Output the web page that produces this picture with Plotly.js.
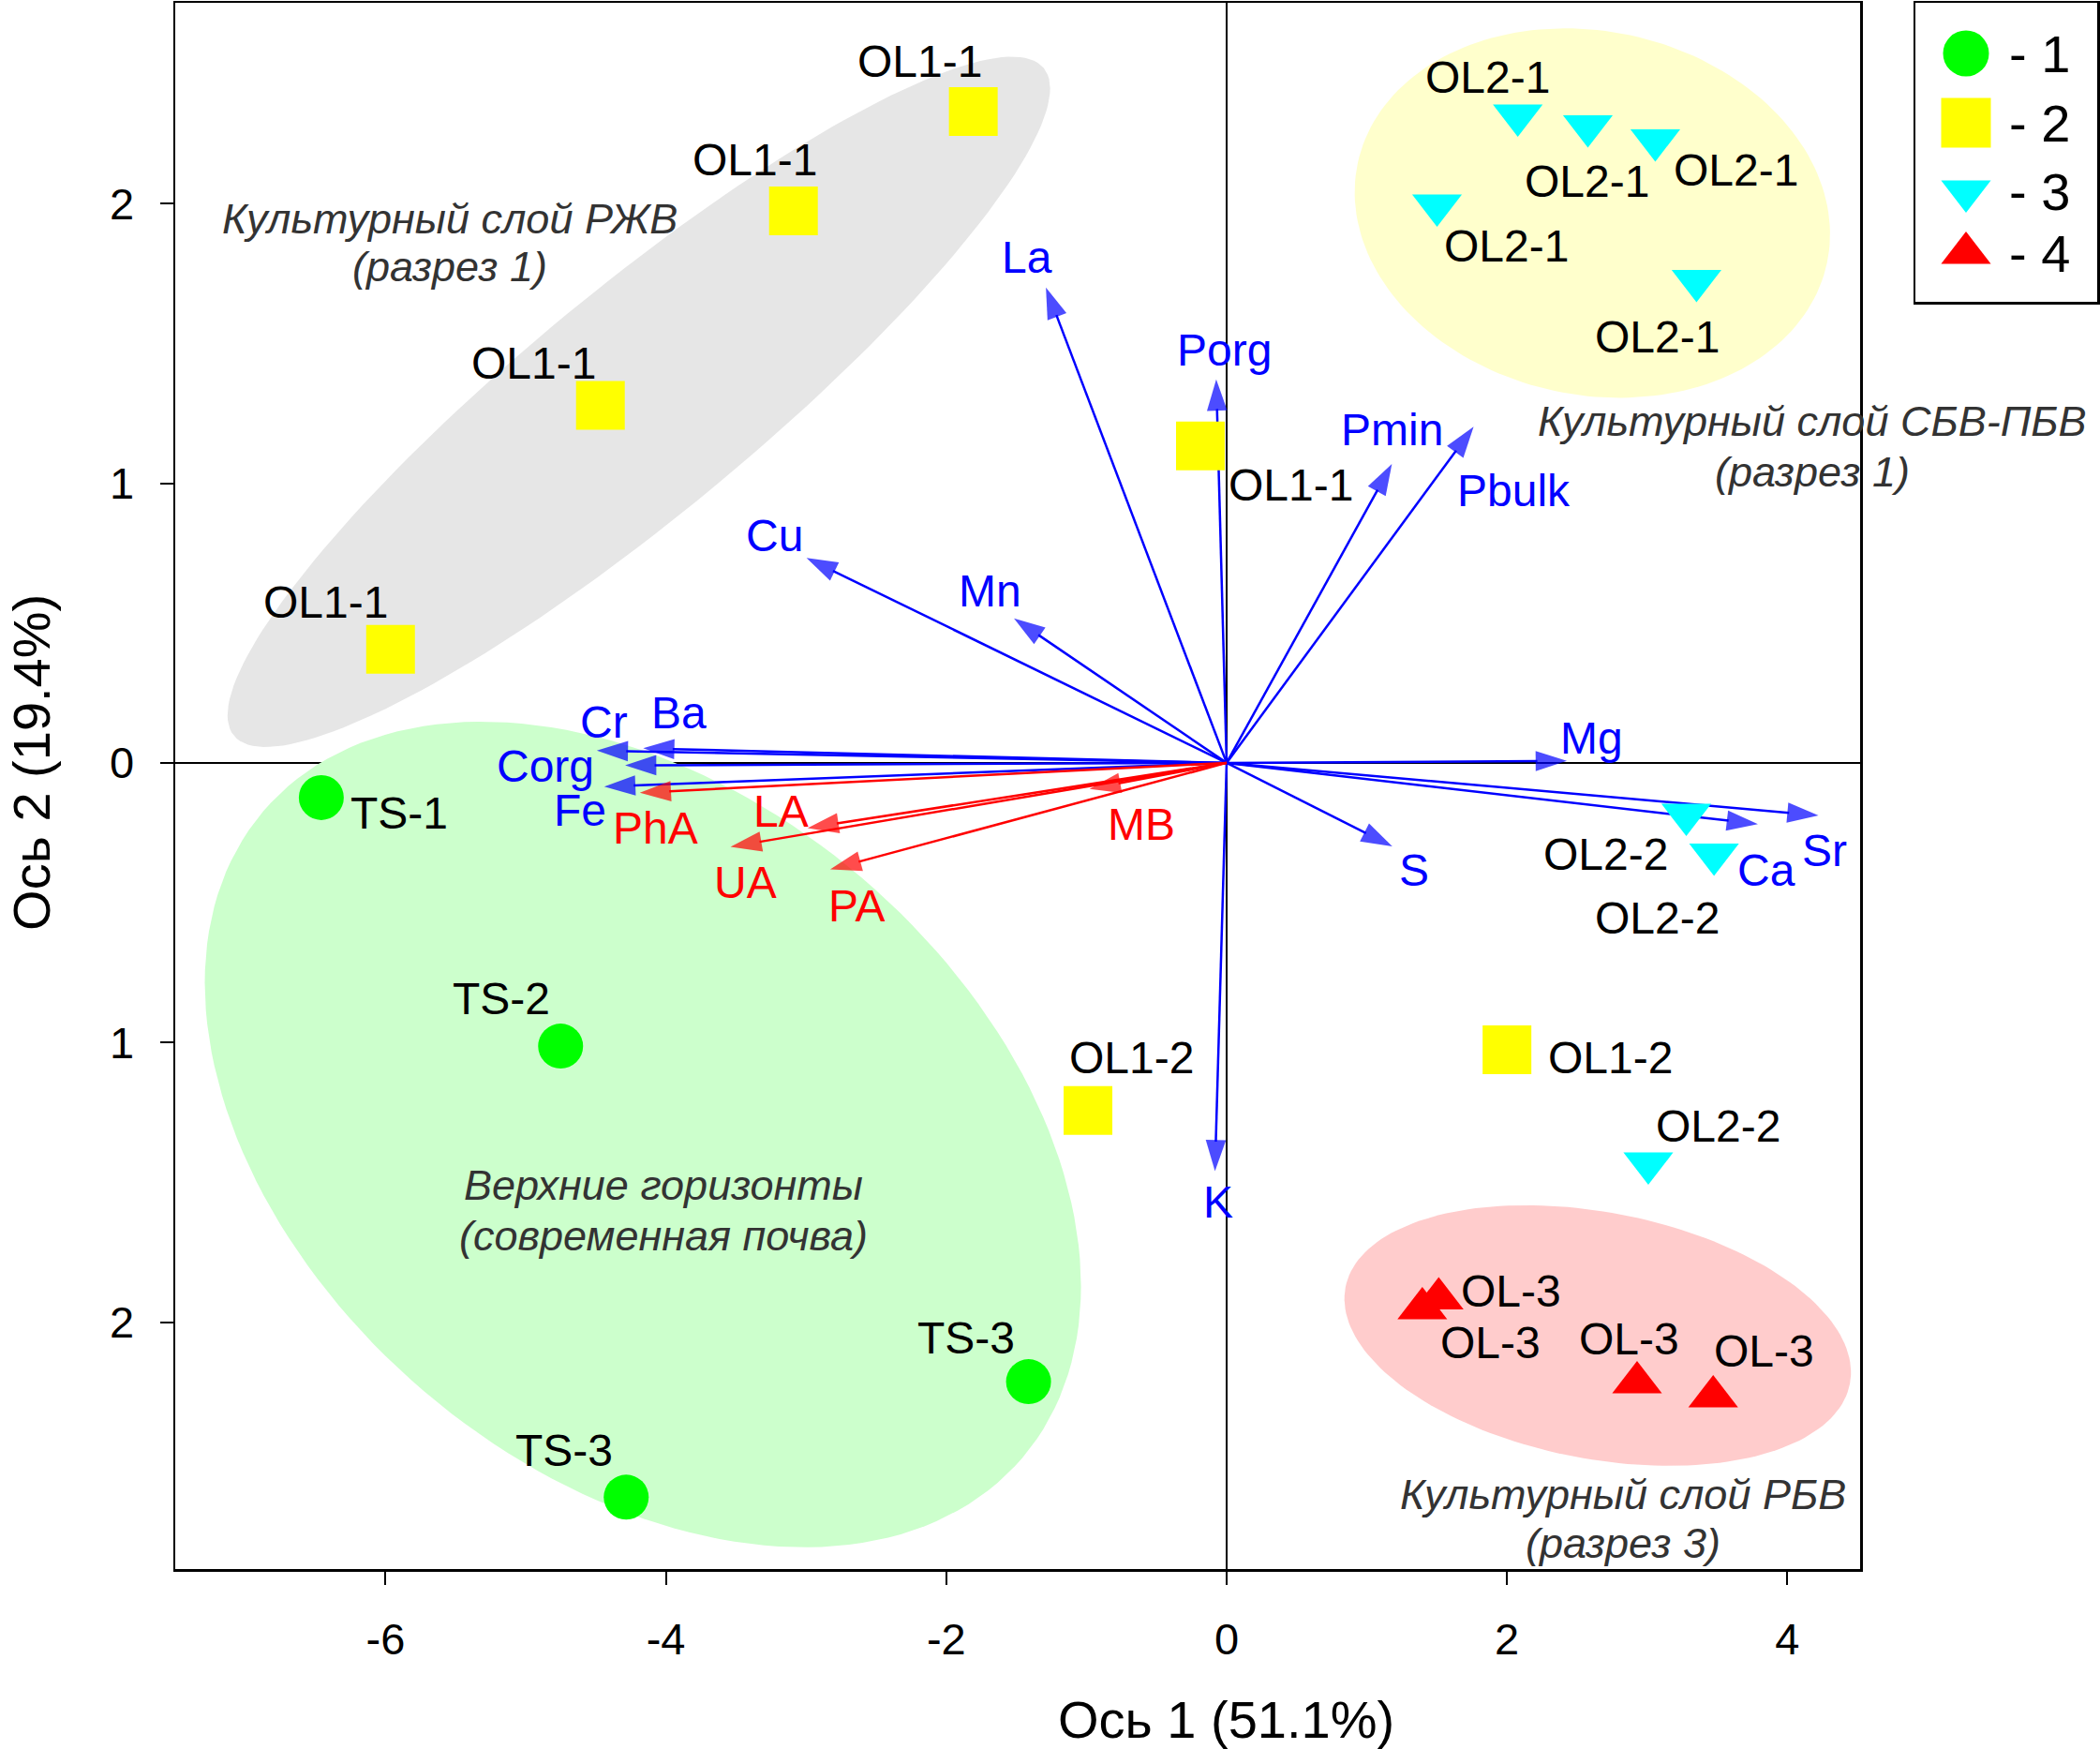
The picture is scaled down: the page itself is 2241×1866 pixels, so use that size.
<!DOCTYPE html>
<html><head><meta charset="utf-8">
<script src="https://cdn.plot.ly/plotly-3.0.1.min.js"></script>
<style>html,body{margin:0;padding:0;background:#fff}#chart{width:2241px;height:1866px}</style>
</head><body><div id="chart"></div>
<script>
// ---------------- data ----------------
const g1Labels = ['TS-1','TS-2','TS-3','TS-3'];
const g1X = [-6.458,-4.751,-1.413,-4.283];
const g1Y = [-0.124,-1.013,-2.213,-2.626];

const g2Labels = ['OL1-1','OL1-1','OL1-1','OL1-1','OL1-1','OL1-2','OL1-2'];
const g2X = [-1.807,-3.090,-4.467,-5.964,-0.187,-0.989,2.000];
const g2Y = [2.329,1.974,1.278,0.406,1.133,-1.243,-1.026];

const g3Labels = ['OL2-1','OL2-1','OL2-1','OL2-1','OL2-1','OL2-2','OL2-2','OL2-2'];
const g3X = [2.077,2.577,3.058,1.501,3.352,3.279,3.477,3.008];
const g3Y = [2.316,2.277,2.227,1.994,1.724,-0.185,-0.327,-1.432];

const g4Labels = ['OL-3','OL-3','OL-3','OL-3'];
const g4X = [1.396,1.513,2.928,3.471];
const g4Y = [-1.951,-1.916,-2.216,-2.266];

const blueVars = ['La','Porg','Pmin','Pbulk','Cu','Mn','Cr','Ba','Corg','Fe','Mg','S','Ca','Sr','K'];
const blueX = [-1.289,-0.074,1.179,1.762,-2.997,-1.517,-4.493,-4.162,-4.291,-4.440,2.427,1.182,3.790,4.222,-0.083];
const blueY = [1.700,1.371,1.069,1.202,0.733,0.517,0.044,0.052,-0.009,-0.085,0.007,-0.299,-0.219,-0.188,-1.460];

const redVars = ['PhA','LA','UA','PA','MB'];
const redX = [-4.186,-2.989,-3.539,-2.828,-0.978];
const redY = [-0.107,-0.233,-0.300,-0.381,-0.093];

const xTickVals = [-6,-4,-2,0,2,4];
const xTickText = ['-6','-4','-2','0','2','4'];
const yTickVals = [2,1,0,-1,-2];
const yTickText = ['2','1','0','1','2'];
const legendText = ['- 1','- 2','- 3','- 4'];
const xTitle = 'Ось 1 (51.1%)';
const yTitle = 'Ось 2 (19.4%)';

// ---------------- styling / layout constants ----------------
const FONT = 'Liberation Sans, Arial, Helvetica, sans-serif';
const W = 2241, H = 1866;
const margin = {l:187, r:0, t:3, b:192, pad:0};
const plotRightPx = 1985;
const paperW = W - margin.l - margin.r, paperH = H - margin.t - margin.b;
const xDomEnd = (plotRightPx - margin.l) / paperW;
const xRange = [-7.5, 4.519], yRange = [-2.883, 2.718];
const pxPerX = (plotRightPx - margin.l) / (xRange[1] - xRange[0]);
const pxPerY = paperH / (yRange[1] - yRange[0]);

// label offsets in screen pixels [dx, dy(down)]
const g1Off = [[83,17],[-63,-51],[-66.6,-46.5],[-66.4,-49.5]];
const g2Off = [[-57,-53.5],[-41,-54.5],[-71,-45],[-69,-50],[96.5,42],[46.6,-56.7],[110,9]];
const g3Off = [[-31.7,-40.9],[-0.8,58.5],[86.3,31.8],[73.7,43.75],[-41.7,60.4],[-86.5,42.75],[-60.9,68.5],[74.9,-39.6]];
const g4Off = [[72.4,37],[77.5,-8],[-8.2,-46.5],[54.6,-48.8]];
const blueOff = [[-20,-32],[9,-31],[0,-36.5],[43,68.4],[-34,-24],[-25.6,-29],[7.6,-30.4],[38.3,-37.5],[-85,1.2],[-26,25],[26,-24],[22.7,25.5],[9.5,49],[6.8,37.2],[3,33]];
const redOff = [[16.8,37.6],[-28,-18.3],[16.3,38.4],[28.4,39],[55.8,38.3]];

const groups = [
  {x:g1X, y:g1Y, labels:g1Labels, off:g1Off, symbol:'circle', size:48, color:'#00FF00'},
  {x:g2X, y:g2Y, labels:g2Labels, off:g2Off, symbol:'square', size:52, color:'#FFFF00'},
  {x:g3X, y:g3Y, labels:g3Labels, off:g3Off, symbol:'triangle-down', size:46, color:'#00FFFF'},
  {x:g4X, y:g4Y, labels:g4Labels, off:g4Off, symbol:'triangle-up', size:46, color:'#FF0000'}
];

// group ellipses: centre in data units, semi-axes in px, tilt in degrees (ccw)
const ellipses = [
  {cx:-4.193, cy:1.291, a:560, b:121, ang:39.5, color:'#E6E6E6'},
  {cx:-4.164, cy:-1.329, a:532, b:360, ang:-40.4, color:'#CCFFCC'},
  {cx:2.609, cy:1.966, a:256, b:194, ang:-12, color:'#FFFFCC'},
  {cx:2.647, cy:-2.048, a:274, b:131.5, ang:-10.8, color:'#FFCCCC'}
];
const groupNotes = [
  {x:-5.541, y:[1.947,1.773], lines:['Культурный слой РЖВ','(разрез 1)']},
  {x:4.178, y:[1.220,1.042], lines:['Культурный слой СБВ-ПБВ','(разрез 1)']},
  {x:-4.017, y:[-1.512,-1.690], lines:['Верхние горизонты','(современная почва)']},
  {x:2.828, y:[-2.615,-2.792], lines:['Культурный слой РБВ','(разрез 3)']}
];

// legend box geometry (px)
const legBox = {x0:2044, x1:2238, y0:3, y1:322};
const legRowsPx = [57,131,204,270], legMarkPx = 2098, legTextPx = 2142;
const legSizes = [49,53,46,46];

// ---------------- build ----------------
const traces = [];
const annotations = [];

ellipses.forEach(e => {
  const xs = [], ys = [];
  const r = e.ang * Math.PI / 180;
  for (let k = 0; k <= 180; k++) {
    const t = k / 180 * 2 * Math.PI;
    const u = e.a * Math.cos(t), v = e.b * Math.sin(t);
    const px = u * Math.cos(r) - v * Math.sin(r);
    const py = u * Math.sin(r) + v * Math.cos(r);
    xs.push(e.cx + px / pxPerX); ys.push(e.cy + py / pxPerY);
  }
  traces.push({type:'scatter', x:xs, y:ys, mode:'lines', fill:'toself', fillcolor:e.color,
    line:{width:0, color:e.color}, hoverinfo:'skip', showlegend:false});
});

function addArrows(names, xs, ys, offs, color) {
  names.forEach((n, i) => {
    traces.push({type:'scatter', x:[0, xs[i]], y:[0, ys[i]], mode:'lines+markers',
      line:{color:color, width:2.5},
      marker:{symbol:'arrow', size:[0, 35], color:color, angleref:'previous', line:{width:0}},
      hoverinfo:'skip', showlegend:false});
    annotations.push({x:xs[i], y:ys[i], xref:'x', yref:'y', text:n, showarrow:false,
      xshift:offs[i][0], yshift:-offs[i][1], xanchor:'center', yanchor:'middle',
      font:{family:FONT, size:48, color:color}});
  });
}
addArrows(blueVars, blueX, blueY, blueOff, '#0000FF');
addArrows(redVars, redX, redY, redOff, '#FF0000');

groups.forEach(g => {
  traces.push({type:'scatter', x:g.x, y:g.y, mode:'markers',
    marker:{symbol:g.symbol, size:g.size, color:g.color, line:{width:0}},
    hoverinfo:'x+y', showlegend:false});
  g.labels.forEach((l, i) => {
    annotations.push({x:g.x[i], y:g.y[i], xref:'x', yref:'y', text:l, showarrow:false,
      xshift:g.off[i][0], yshift:-g.off[i][1], xanchor:'center', yanchor:'middle',
      font:{family:FONT, size:48, color:'#000'}});
  });
});

groupNotes.forEach(n => {
  n.lines.forEach((t, j) => annotations.push({x:n.x, y:n.y[j], xref:'x', yref:'y', text:t,
    showarrow:false, xanchor:'center', yanchor:'middle',
    font:{family:FONT, size:45, color:'#333333', style:'italic'}}));
});

// custom legend in its own small axes
const lx = px => (px - legBox.x0) / (legBox.x1 - legBox.x0);
const ly = py => (legBox.y1 - py) / (legBox.y1 - legBox.y0);
groups.forEach((g, i) => {
  traces.push({type:'scatter', x:[lx(legMarkPx)], y:[ly(legRowsPx[i])], xaxis:'x2', yaxis:'y2',
    mode:'markers', marker:{symbol:g.symbol, size:legSizes[i], color:g.color, line:{width:0}},
    hoverinfo:'skip', showlegend:false});
  annotations.push({x:lx(legTextPx), y:ly(legRowsPx[i]), xref:'x2', yref:'y2', text:legendText[i],
    showarrow:false, xanchor:'left', yanchor:'middle', font:{family:FONT, size:56, color:'#000'}});
});

// axis titles
annotations.push({x:0, y:0, xref:'x', yref:'paper', yshift:-160, text:xTitle, showarrow:false,
  xanchor:'center', yanchor:'middle', font:{family:FONT, size:56, color:'#000'}});
annotations.push({x:0, y:0, xref:'paper', yref:'y', xshift:-153, text:yTitle, showarrow:false,
  textangle:-90, xanchor:'center', yanchor:'middle', font:{family:FONT, size:56, color:'#000'}});

const axBase = {showgrid:false, showline:true, mirror:true, linecolor:'#000', linewidth:2.5,
  ticks:'outside', ticklen:14, tickwidth:2, tickcolor:'#000', zeroline:true, zerolinecolor:'#000',
  zerolinewidth:1.5, tickfont:{family:FONT, size:47, color:'#000'}, fixedrange:true};

const layout = {
  width:W, height:H, margin:margin, paper_bgcolor:'#fff', plot_bgcolor:'#fff',
  showlegend:false, font:{family:FONT},
  xaxis:Object.assign({}, axBase, {domain:[0, xDomEnd], range:xRange, tickmode:'array',
    tickvals:xTickVals, ticktext:xTickText, ticklabelstandoff:18}),
  yaxis:Object.assign({}, axBase, {domain:[0,1], range:yRange, tickmode:'array',
    tickvals:yTickVals, ticktext:yTickText, ticklabelstandoff:18}),
  xaxis2:{domain:[(legBox.x0 - margin.l)/paperW, (legBox.x1 - margin.l)/paperW], range:[0,1],
    anchor:'y2', showline:true, mirror:true, linecolor:'#000', linewidth:2.5, showgrid:false,
    zeroline:false, showticklabels:false, ticks:'', fixedrange:true},
  yaxis2:{domain:[(H - margin.b - legBox.y1)/paperH, (H - margin.b - legBox.y0)/paperH], range:[0,1],
    anchor:'x2', showline:true, mirror:true, linecolor:'#000', linewidth:2.5, showgrid:false,
    zeroline:false, showticklabels:false, ticks:'', fixedrange:true},
  annotations:annotations
};

Plotly.newPlot('chart', traces, layout, {displayModeBar:false, staticPlot:true});
</script>
</body></html>
